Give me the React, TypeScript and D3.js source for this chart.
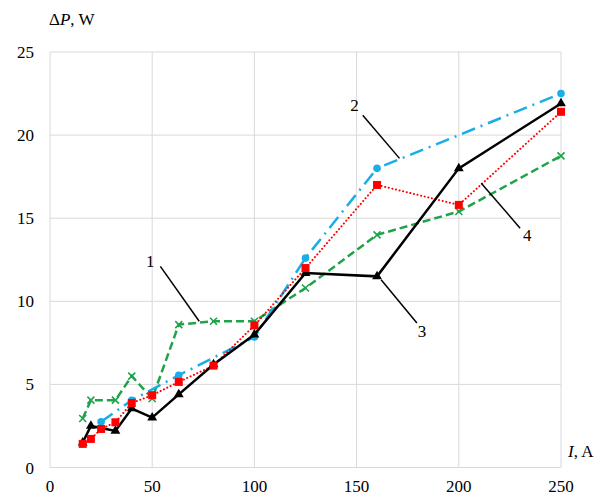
import React from "react";
import * as d3 from "d3";

// Power loss ΔP (W) versus current I (A) for four devices
const currents1 = [16, 20, 32, 40, 50, 63, 80, 100, 125, 160, 200, 250];
const losses1 = [2.95, 4.05, 4.05, 5.5, 4.15, 8.6, 8.8, 8.8, 10.8, 14.0, 15.4, 18.75];

const currents2 = [25, 40, 63, 100, 125, 160, 250];
const losses2 = [2.75, 4.05, 5.55, 7.85, 12.6, 18.0, 22.5];

const currents3 = [16, 20, 32, 40, 50, 63, 80, 100, 125, 160, 200, 250];
const losses3 = [1.5, 2.5, 2.2, 3.55, 3.0, 4.4, 6.2, 8.0, 11.7, 11.5, 18.0, 21.9];

const currents4 = [16, 20, 25, 32, 40, 50, 63, 80, 100, 125, 160, 200, 250];
const losses4 = [1.42, 1.72, 2.32, 2.72, 3.88, 4.35, 5.15, 6.13, 8.55, 12.0, 17.0, 15.8, 21.4];

const xTicks = [0, 50, 100, 150, 200, 250];
const yTicks = [0, 5, 10, 15, 20, 25];

// Curve labels: number, anchor point on the curve (data units), label position (data units)
const curveLabels = [
  { text: "1", from: [73, 8.8], to: [54, 12.1], pos: [49, 12.4] },
  { text: "2", from: [171, 18.6], to: [153, 21.2], pos: [149, 21.8] },
  { text: "3", from: [162, 11.3], to: [179.5, 8.7], pos: [182, 8.2] },
  { text: "4", from: [211, 17.1], to: [230, 14.4], pos: [233.5, 14.0] },
];

const W = 603;
const H = 497;
const FONT = '"Liberation Serif", "Times New Roman", Times, serif';

export default function App() {
  const x = d3.scaleLinear().domain([0, 250]).range([50, 561]);
  const y = d3.scaleLinear().domain([0, 25]).range([467.5, 52]);

  const mk = (xs: number[], ys: number[]) => xs.map((v, i) => [v, ys[i]] as [number, number]);
  const line = d3
    .line<[number, number]>()
    .x((d) => x(d[0]))
    .y((d) => y(d[1]));

  const s1 = mk(currents1, losses1);
  const s2 = mk(currents2, losses2);
  const s3 = mk(currents3, losses3);
  const s4 = mk(currents4, losses4);

  const green = "#1fa34a";
  const cyan = "#1aaee6";
  const red = "#ff0000";
  const grid = "#d9d9d9";

  const tri = d3.symbol().type(d3.symbolTriangle).size(42)();

  return (
    <svg
      width={W}
      height={H}
      style={{ position: "absolute", left: 0, top: 0, background: "#fff", fontFamily: FONT }}
    >
      {/* grid */}
      {yTicks.map((t) => (
        <line key={"gy" + t} x1={x(0)} x2={x(250)} y1={y(t)} y2={y(t)} stroke={grid} strokeWidth={1} />
      ))}
      {xTicks.map((t) => (
        <line key={"gx" + t} x1={x(t)} x2={x(t)} y1={y(0)} y2={y(25)} stroke={grid} strokeWidth={1} />
      ))}

      {/* tick labels */}
      {yTicks.map((t) => (
        <text key={"ty" + t} x={34} y={y(t) + 6} fontSize={17} textAnchor="end" fill="#000">
          {t}
        </text>
      ))}
      {xTicks.map((t) => (
        <text key={"tx" + t} x={x(t)} y={492} fontSize={17} textAnchor="middle" fill="#000">
          {t}
        </text>
      ))}

      {/* axis titles */}
      <text x={49} y={25} fontSize={17} fill="#000">
        Δ<tspan fontStyle="italic">P</tspan>, W
      </text>
      <text x={568} y={457} fontSize={17} fill="#000">
        <tspan fontStyle="italic">I</tspan>, A
      </text>

      {/* series 1: green dashed with crosses */}
      <path d={line(s1) || ""} fill="none" stroke={green} strokeWidth={2.5} strokeDasharray="8,4" />
      {s1.map((d, i) => (
        <g key={"m1" + i} transform={`translate(${x(d[0])},${y(d[1])})`} stroke={green} strokeWidth={1.6}>
          <line x1={-3.5} y1={-3.5} x2={3.5} y2={3.5} />
          <line x1={-3.5} y1={3.5} x2={3.5} y2={-3.5} />
        </g>
      ))}

      {/* series 2: cyan dash-dot with circles */}
      <path
        d={line(s2) || ""}
        fill="none"
        stroke={cyan}
        strokeWidth={2.5}
        strokeDasharray="14,6,2,6"
      />
      {s2.map((d, i) => (
        <circle key={"m2" + i} cx={x(d[0])} cy={y(d[1])} r={3.8} fill={cyan} />
      ))}

      {/* series 4: red dotted with squares */}
      <path
        d={line(s4) || ""}
        fill="none"
        stroke={red}
        strokeWidth={2}
        strokeDasharray="0.1,3.6"
        strokeLinecap="round"
      />

      {/* series 3: black solid with triangles */}
      <path d={line(s3) || ""} fill="none" stroke="#000" strokeWidth={2.5} />
      {s3.map((d, i) => (
        <path key={"m3" + i} d={tri || ""} transform={`translate(${x(d[0])},${y(d[1])})`} fill="#000" />
      ))}

      {s4.map((d, i) => (
        <rect key={"m4" + i} x={x(d[0]) - 4} y={y(d[1]) - 4} width={8} height={8} fill={red} />
      ))}

      {/* curve number labels with leader lines */}
      {curveLabels.map((l) => (
        <g key={"cl" + l.text}>
          <line
            x1={x(l.from[0])}
            y1={y(l.from[1])}
            x2={x(l.to[0])}
            y2={y(l.to[1])}
            stroke="#000"
            strokeWidth={1.5}
          />
          <text x={x(l.pos[0])} y={y(l.pos[1]) + 6} fontSize={17} textAnchor="middle" fill="#000">
            {l.text}
          </text>
        </g>
      ))}
    </svg>
  );
}
